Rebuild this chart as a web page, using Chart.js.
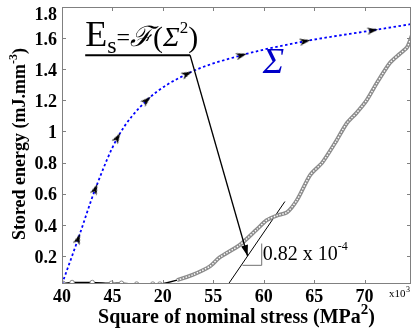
<!DOCTYPE html>
<html>
<head>
<meta charset="utf-8">
<script src="https://cdn.jsdelivr.net/npm/chart.js@4"></script>
<style>
  html, body { margin: 0; padding: 0; background: #fff; }
  #wrap { width: 416px; height: 328px; }
</style>
</head>
<body>
<div id="wrap"><canvas id="c"></canvas></div>
<script>
// values (x in 10^3 MPa^2, y in mJ.mm^-3)
const sigmaX = [40, 41.6, 43.3, 45.5, 48.4, 52.4, 57.8, 64.1, 70.8, 74.6];
const sigmaY = [0.02, 0.31, 0.63, 0.96, 1.2, 1.37, 1.49, 1.58, 1.65, 1.69];

const energyX = [40.1, 41, 43, 44.9, 45.9, 47.4, 49, 49.7, 51.4, 53, 54.7, 55.6, 57.6, 59.3, 60.3,
                 61.3, 62.3, 63.3, 64.6, 65.8, 67.2, 68.2, 69.2, 70.2, 71.2, 72.5, 73.5, 74.2, 74.7];
const energyY = [0.025, 0.03, 0.03, 0.025, 0.025, 0.02, 0.02, 0.02, 0.045, 0.08, 0.135, 0.19, 0.27, 0.37, 0.43,
                 0.46, 0.48, 0.56, 0.72, 0.8, 0.94, 1.05, 1.12, 1.2, 1.31, 1.44, 1.5, 1.54, 1.62];

// tangent used for the slope and its little triangle
const tangentX = [56.5, 62.1];
const tangentY = [0.02, 0.55];
const triangleX = [57.9, 59.8, 59.8];
const triangleY = [0.14, 0.14, 0.28];

const xTicks = [40, 45, 50, 55, 60, 65, 70];
const xTickLabels = ['40', '45', '20', '55', '60', '65', '70'];
const yTicks = [0.2, 0.4, 0.6, 0.8, 1, 1.2, 1.4, 1.6, 1.8];
const yTickLabels = ['0.2', '0.4', '0.6', '0.8', '1', '1.2', '1.4', '1.6', '1.8'];

const SERIF = "'Liberation Serif', 'Times New Roman', serif";
const pts = (xs, ys) => xs.map((x, i) => ({ x: x, y: ys[i] }));

// notched arrow head, pointing up, used as the point style of the sigma curve
function arrowHead(len, wid) {
    const c = document.createElement('canvas');
    c.width = wid; c.height = len;
    const g = c.getContext('2d');
    g.fillStyle = '#000';
    g.beginPath();
    g.moveTo(wid / 2, 0);
    g.lineTo(wid, len);
    g.lineTo(wid / 2, len * 0.72);
    g.lineTo(0, len);
    g.closePath();
    g.fill();
    return c;
}
const arrowImg = arrowHead(11, 7);

function sigmaRotation(ctx) {
    const i = ctx.dataIndex;
    const sx = ctx.chart.scales.x, sy = ctx.chart.scales.y;
    const a = Math.max(i - 1, 0), b = Math.min(i + 1, sigmaX.length - 1);
    const dx = sx.getPixelForValue(sigmaX[b]) - sx.getPixelForValue(sigmaX[a]);
    const dy = sy.getPixelForValue(sigmaY[b]) - sy.getPixelForValue(sigmaY[a]);
    return Math.atan2(dy, dx) * 180 / Math.PI + 90;
}

// text made of pieces with their own font and baseline shift
function measurePieces(ctx, pieces) {
    return pieces.reduce((w, p) => { ctx.font = p.f; return w + ctx.measureText(p.t).width; }, 0);
}
function drawPieces(ctx, x, y, pieces) {
    pieces.forEach(p => {
        ctx.font = p.f;
        ctx.fillText(p.t, x, y + (p.dy || 0));
        x += ctx.measureText(p.t).width;
    });
}

// box, inner tick marks, y labels, axis titles and the annotations
const decorations = {
    id: 'decorations',
    afterDraw(chart) {
        const ctx = chart.ctx;
        const { left, right, top, bottom } = chart.chartArea;
        const sx = chart.scales.x, sy = chart.scales.y;
        ctx.save();

        // frame + ticks on all four sides
        ctx.strokeStyle = '#808080';
        ctx.lineWidth = 1;
        ctx.strokeRect(left + 0.5, top + 0.5, right - left - 1, bottom - top - 1);
        ctx.beginPath();
        xTicks.forEach(v => {
            const p = Math.round(sx.getPixelForValue(v)) + 0.5;
            ctx.moveTo(p, bottom); ctx.lineTo(p, bottom - 4);
            ctx.moveTo(p, top); ctx.lineTo(p, top + 4);
        });
        yTicks.forEach(v => {
            const p = Math.round(sy.getPixelForValue(v)) + 0.5;
            ctx.moveTo(left, p); ctx.lineTo(left + 4, p);
            ctx.moveTo(right, p); ctx.lineTo(right - 4, p);
        });
        ctx.stroke();

        // y tick labels
        ctx.fillStyle = '#000';
        ctx.font = 'bold 18px ' + SERIF;
        ctx.textAlign = 'right';
        ctx.textBaseline = 'middle';
        yTicks.forEach((v, i) => {
            const p = Math.max(sy.getPixelForValue(v) + 2, 15);
            ctx.fillText(yTickLabels[i], left - 5, p);
        });

        ctx.textAlign = 'left';
        ctx.textBaseline = 'alphabetic';

        // axis titles
        const B20 = 'bold 20px ' + SERIF, B18 = 'bold 18px ' + SERIF;
        const xTitle = [
            { t: 'Square of nominal stress (MPa', f: B20 },
            { t: '2', f: 'bold 15px ' + SERIF, dy: -9 },
            { t: ')', f: B20 }
        ];
        const xw = measurePieces(ctx, xTitle);
        drawPieces(ctx, (left + right) / 2 - xw / 2, 323, xTitle);

        const yTitle = [
            { t: 'Stored energy (mJ.mm', f: B18 },
            { t: '-3', f: 'bold 12px ' + SERIF, dy: -8 },
            { t: ')', f: B18 }
        ];
        const yw = measurePieces(ctx, yTitle);
        ctx.save();
        ctx.translate(25, 144);
        ctx.rotate(-Math.PI / 2);
        drawPieces(ctx, -yw / 2, 0, yTitle);
        ctx.restore();

        // x10^3
        ctx.font = '11px ' + SERIF;
        ctx.fillText('x10', right - 22, bottom + 13);
        ctx.font = '8px ' + SERIF;
        ctx.fillText('3', right - 5, bottom + 8);

        // E_s = F(Sigma^2) with the leader arrow
        const ux0 = sx.getPixelForValue(42.3), ux1 = sx.getPixelForValue(52.7);
        const uy = sy.getPixelForValue(1.49);
        const tx = sx.getPixelForValue(58.4), ty = sy.getPixelForValue(0.2);
        ctx.strokeStyle = '#000';
        ctx.lineWidth = 2;
        ctx.beginPath();
        ctx.moveTo(ux0, uy); ctx.lineTo(ux1, uy);
        ctx.stroke();
        ctx.lineWidth = 1.3;
        ctx.beginPath();
        ctx.moveTo(ux1, uy); ctx.lineTo(tx, ty);
        ctx.stroke();
        const ang = Math.atan2(ty - uy, tx - ux1);
        ctx.save();
        ctx.translate(tx, ty);
        ctx.rotate(ang);
        ctx.fillStyle = '#000';
        ctx.beginPath();
        ctx.moveTo(0, 0); ctx.lineTo(-11, -3.5); ctx.lineTo(-11, 3.5);
        ctx.closePath();
        ctx.fill();
        ctx.restore();

        ctx.fillStyle = '#000';
        drawPieces(ctx, ux0, uy - 9, [
            { t: 'E', f: '36px ' + SERIF },
            { t: 's', f: '24px ' + SERIF, dy: 7 },
            { t: '=', f: '24px ' + SERIF, dy: -1 },
            { t: '\u2131', f: 'italic 28px ' + SERIF },
            { t: '(', f: '30px ' + SERIF, dy: 1 },
            { t: '\u03A3', f: 'italic 28px ' + SERIF },
            { t: '2', f: '17px ' + SERIF, dy: -13 },
            { t: ')', f: '30px ' + SERIF, dy: 1 }
        ]);

        // blue Sigma label
        ctx.fillStyle = '#0000c8';
        ctx.font = 'italic 36px ' + SERIF;
        ctx.fillText('\u03A3', sx.getPixelForValue(59.9), sy.getPixelForValue(1.378));

        // slope value
        ctx.fillStyle = '#000';
        drawPieces(ctx, sx.getPixelForValue(59.9), sy.getPixelForValue(0.173), [
            { t: '0.82 x 10', f: '20px ' + SERIF },
            { t: '-4', f: '12px ' + SERIF, dy: -10 }
        ]);

        ctx.restore();
    }
};

new Chart(document.getElementById('c'), {
    type: 'line',
    data: {
        datasets: [
            {
                // sigma curve
                data: pts(sigmaX, sigmaY),
                borderColor: '#0000ff',
                borderWidth: 1.8,
                borderDash: [2.5, 2.5],
                cubicInterpolationMode: 'monotone',
                pointStyle: arrowImg,
                pointRadius: ctx => (ctx.dataIndex === 0 || ctx.dataIndex === sigmaX.length - 1) ? 0 : 4,
                pointRotation: sigmaRotation,
                order: 0
            },
            {
                // stored energy: thin core line and open circles at the start
                data: pts(energyX, energyY),
                borderColor: '#ffffff',
                borderWidth: 1.4,
                borderDash: [1.5, 1.5],
                tension: 0.25,
                segment: {
                    borderColor: ctx => ctx.p0.parsed.x < 50 ? '#000' : undefined,
                    borderDash: ctx => ctx.p0.parsed.x < 50 ? [] : undefined,
                    borderWidth: ctx => ctx.p0.parsed.x < 50 ? 1.2 : undefined
                },
                pointStyle: 'circle',
                pointRadius: ctx => (ctx.raw && ctx.raw.x < 50) ? 2.2 : 0,
                pointBackgroundColor: '#fff',
                pointBorderColor: '#8a8a8a',
                pointBorderWidth: 1,
                order: 1
            },
            {
                // stored energy: grey band of dense markers
                data: pts(energyX, energyY),
                borderColor: '#8c8c8c',
                borderWidth: 4,
                tension: 0.25,
                segment: {
                    borderColor: ctx => ctx.p0.parsed.x < 50 ? 'rgba(0,0,0,0)' : undefined
                },
                pointRadius: 0,
                order: 2
            },
            {
                data: pts(tangentX, tangentY),
                borderColor: '#000',
                borderWidth: 1,
                pointRadius: 0,
                order: 3
            },
            {
                data: pts(triangleX, triangleY),
                borderColor: '#707070',
                borderWidth: 1,
                pointRadius: 0,
                order: 3
            }
        ]
    },
    options: {
        responsive: true,
        maintainAspectRatio: false,
        animation: false,
        events: [],
        layout: { padding: { top: 7, right: 4, left: 0, bottom: 0 } },
        plugins: {
            legend: { display: false },
            tooltip: { enabled: false }
        },
        scales: {
            x: {
                type: 'linear',
                min: 40,
                max: 74.6,
                afterBuildTicks: s => { s.ticks = xTicks.map(v => ({ value: v })); },
                afterFit: s => { s.height = 44; },
                grid: { display: false, drawTicks: false },
                border: { display: false },
                ticks: {
                    autoSkip: false,
                    maxRotation: 0,
                    padding: 3,
                    color: '#000',
                    font: { family: SERIF, size: 18, weight: 'bold' },
                    callback: (v, i) => xTickLabels[i]
                },
                title: { display: false }
            },
            y: {
                min: 0.02,
                max: 1.8,
                afterBuildTicks: s => { s.ticks = yTicks.map(v => ({ value: v })); },
                afterFit: s => { s.width = 62; },
                grid: { display: false, drawTicks: false },
                border: { display: false },
                ticks: { display: false },
                title: { display: false }
            }
        }
    },
    plugins: [decorations]
});
</script>
</body>
</html>
